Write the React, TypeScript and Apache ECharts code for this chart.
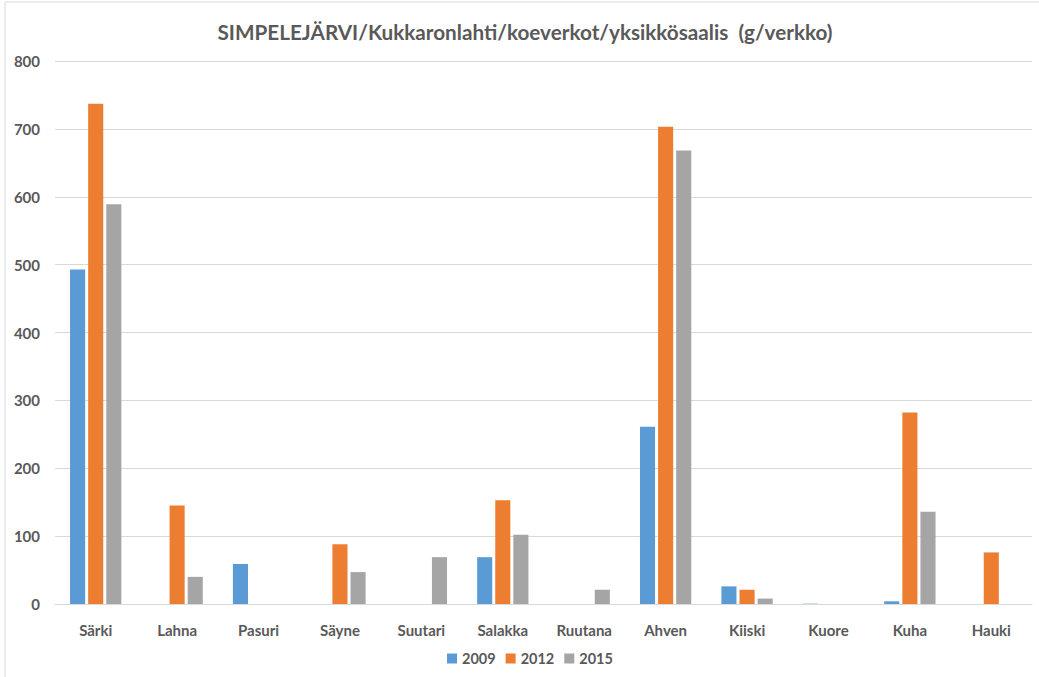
import React, { useEffect, useRef } from "react";
import * as echarts from "echarts";

const categories = ["Särki", "Lahna", "Pasuri", "Säyne", "Suutari", "Salakka", "Ruutana", "Ahven", "Kiiski", "Kuore", "Kuha", "Hauki"];
const v2009 = [493, 0, 59, 0, 0, 69, 0, 261, 26, 0.5, 4, 0];
const v2012 = [737, 145, 0, 88, 0, 153, 0, 703, 21, 0, 282, 76];
const v2015 = [589, 40, 0, 47, 69, 102, 21, 668, 8, 0, 136, 0];
const seriesNames = ["2009", "2012", "2015"];
const colors = ["#5B9BD5", "#ED7D31", "#A5A5A5"];

const FONT = "Lato, 'Open Sans', sans-serif";

export default function App() {
  const ref = useRef<HTMLDivElement>(null);
  useEffect(() => {
    if (!ref.current) return;
    const chart = echarts.init(ref.current, null, { renderer: "svg" });
    const data = [v2009, v2012, v2015];
    chart.setOption({
      animation: false,
      backgroundColor: "#fff",
      title: {
        text: "SIMPELEJÄRVI/Kukkaronlahti/koeverkot/yksikkösaalis  (g/verkko)",
        left: 520,
        textAlign: "center",
        top: 16,
        textStyle: { fontFamily: FONT, fontSize: 20.7, fontWeight: "bold", color: "#595959" },
      },
      graphic: [
        {
          type: "rect",
          shape: { x: 5, y: 2, width: 1040, height: 680 },
          style: { fill: "none", stroke: "#D9D9D9", lineWidth: 1 },
          silent: true,
        },
      ],
      legend: {
        data: seriesNames,
        bottom: 6,
        left: 442,
        itemWidth: 10,
        itemHeight: 10,
        itemGap: 10,
        icon: "rect",
        textStyle: { fontFamily: FONT, fontSize: 14.5, fontWeight: "bold", color: "#595959" },
      },
      grid: { left: 55, right: 7, top: 61, bottom: 73, containLabel: false },
      xAxis: {
        type: "category",
        data: categories,
        axisLine: { show: true, lineStyle: { color: "#D9D9D9", width: 1 } },
        axisTick: { show: false },
        axisLabel: { fontFamily: FONT, fontSize: 15, fontWeight: "bold", color: "#595959", margin: 18 },
      },
      yAxis: {
        type: "value",
        min: 0,
        max: 800,
        interval: 100,
        axisLine: { show: false },
        axisTick: { show: false },
        splitLine: { lineStyle: { color: "#D9D9D9", width: 1 } },
        axisLabel: { fontFamily: FONT, fontSize: 15, fontWeight: "bold", color: "#595959", margin: 15 },
      },
      series: seriesNames.map((n, i) => ({
        name: n,
        type: "bar",
        data: data[i],
        itemStyle: { color: colors[i] },
        barGap: "20%",
        barCategoryGap: "37%",
      })),
    });
    return () => chart.dispose();
  }, []);
  return <div ref={ref} style={{ width: 1039, height: 677, position: "absolute", left: 0, top: 0 }} />;
}
